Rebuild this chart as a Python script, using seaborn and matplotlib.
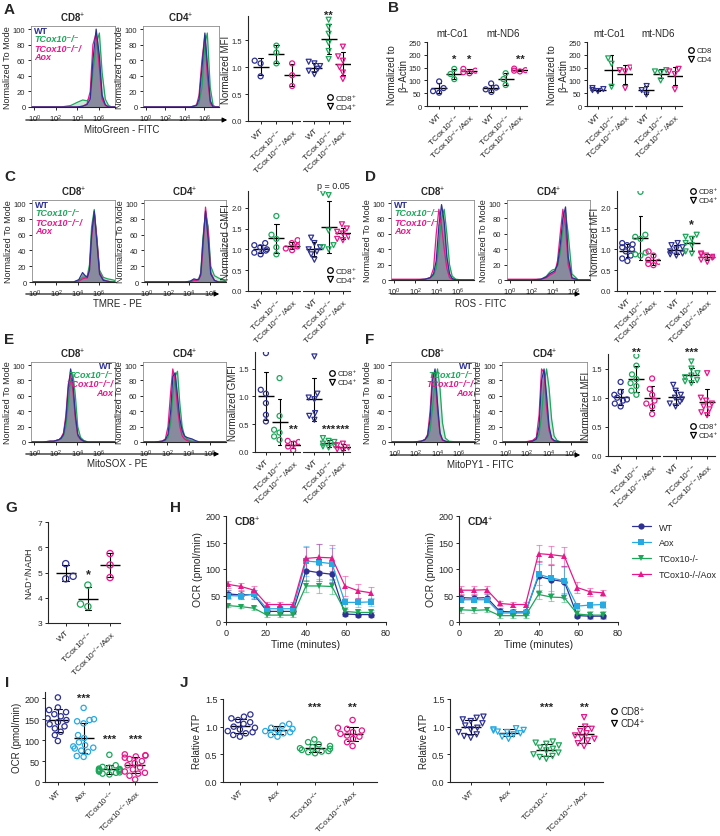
import matplotlib
matplotlib.use("Agg")
import matplotlib.pyplot as plt
from matplotlib.lines import Line2D
from matplotlib.patches import FancyArrowPatch
import numpy as np
import pandas as pd
import seaborn as sns

sns.set_style("ticks")
plt.rcParams["font.family"] = ["Liberation Sans", "DejaVu Sans"]
plt.rcParams["mathtext.fontset"] = "custom"
plt.rcParams["mathtext.rm"] = "Liberation Sans"
plt.rcParams["mathtext.it"] = "Liberation Sans:italic"
plt.rcParams["mathtext.bf"] = "Liberation Sans:bold"
plt.rcParams["axes.linewidth"] = 0.8
plt.rcParams["xtick.major.width"] = 0.7
plt.rcParams["ytick.major.width"] = 0.7
plt.rcParams["xtick.major.size"] = 2.5
plt.rcParams["ytick.major.size"] = 2.5
plt.rcParams["xtick.major.pad"] = 1.5
plt.rcParams["ytick.major.pad"] = 1.5

NAVY = "#2e3192"
GREEN = "#1ea65b"
PINK = "#e6198a"
SKY = "#27a9e1"
FILL = "#7b8296"

KO = "TCox10$^{-/-}$"
KA = "TCox10$^{-/-}$/Aox"
cats3 = ["WT", KO, KA]
cats4 = ["WT", "Aox", KO, KA]
cols3 = [NAVY, GREEN, PINK]
cols4 = [NAVY, SKY, GREEN, PINK]

# ---- flow histograms (log10 fluorescence grid, % of mode) ----
hx_a = [-0.3, 2.5, 3.4, 4.0, 4.5, 4.9, 5.2, 5.45, 5.75, 6.05, 6.3, 6.6, 6.9, 7.2, 7.5]
ha_cd8 = [[0, 0, 0, 0, 1, 3, 10, 60, 100, 65, 15, 3, 0, 0, 0],
          [0, 0, 2, 6, 9, 8, 12, 45, 80, 95, 45, 10, 2, 0, 0],
          [0, 0, 0, 0, 1, 4, 20, 80, 95, 50, 10, 2, 0, 0, 0]]
ha_cd4 = [[0, 0, 0, 0, 0, 1, 2, 10, 50, 95, 55, 8, 0, 0, 0],
          [0, 0, 0, 0, 0, 1, 2, 5, 25, 80, 95, 25, 2, 0, 0],
          [0, 0, 0, 0, 0, 1, 3, 15, 60, 92, 40, 5, 0, 0, 0]]

hx_c = [-0.3, 3.6, 4.1, 4.45, 4.7, 4.9, 5.1, 5.3, 5.55, 5.8, 6.05, 6.4, 6.8, 7.2, 7.5]
hc_cd8 = [[0, 0, 3, 12, 8, 6, 15, 60, 90, 50, 10, 2, 1, 0, 0],
          [0, 0, 2, 6, 6, 8, 22, 70, 92, 55, 15, 6, 4, 3, 2],
          [0, 0, 1, 4, 5, 5, 15, 55, 88, 55, 12, 3, 1, 0, 0]]
hc_cd4 = [[0, 0, 1, 4, 3, 3, 10, 50, 90, 55, 10, 2, 0, 0, 0],
          [0, 0, 1, 3, 3, 4, 12, 55, 88, 70, 20, 8, 5, 3, 1],
          [0, 0, 0, 2, 2, 3, 8, 40, 95, 65, 12, 2, 0, 0, 0]]

hx_d = [-0.3, 2.0, 2.9, 3.4, 3.7, 3.95, 4.2, 4.45, 4.7, 4.95, 5.2, 5.45, 5.8, 6.4, 7.5]
hd_cd8 = [[0, 0, 1, 3, 8, 25, 70, 98, 75, 30, 8, 2, 0, 0, 0],
          [0, 0, 1, 3, 6, 15, 45, 80, 92, 60, 20, 5, 1, 0, 0],
          [1, 1, 1, 3, 15, 60, 92, 70, 40, 15, 3, 1, 0, 0, 0]]
hd_cd4 = [[0, 0, 1, 4, 8, 10, 12, 20, 45, 80, 95, 30, 3, 0, 0],
          [0, 0, 1, 5, 10, 13, 14, 18, 35, 65, 88, 60, 8, 0, 0],
          [1, 1, 1, 3, 6, 8, 10, 25, 60, 92, 70, 20, 2, 0, 0]]

hx_e = [-0.3, 0.8, 1.5, 1.8, 2.05, 2.3, 2.5, 2.72, 2.94, 3.16, 3.38, 3.6, 3.82, 4.04, 4.3, 4.6, 5.0, 5.8, 7.5]
he_cd8 = [[0, 0, 1, 1, 2, 3, 5, 10, 30, 70, 95, 75, 35, 10, 4, 1, 0, 0, 0],
          [0, 0, 1, 1, 2, 3, 4, 8, 20, 50, 80, 88, 60, 20, 6, 2, 0, 0, 0],
          [0, 0, 1, 1, 2, 3, 6, 12, 35, 75, 88, 65, 30, 8, 3, 1, 0, 0, 0]]
he_cd4 = [[0, 0, 1, 3, 10, 40, 85, 90, 60, 30, 15, 8, 6, 5, 4, 2, 0, 0, 0],
          [0, 0, 1, 2, 6, 25, 60, 85, 92, 50, 20, 8, 4, 2, 1, 0, 0, 0, 0],
          [0, 0, 1, 4, 20, 65, 95, 80, 45, 20, 8, 4, 2, 1, 0, 0, 0, 0, 0]]

hx_f = [-0.3, 1.8, 2.5, 2.85, 3.1, 3.33, 3.56, 3.79, 4.02, 4.25, 4.48, 4.75, 5.1, 5.8, 7.5]
hf_cd8 = [[0, 0, 1, 3, 8, 30, 80, 95, 50, 12, 3, 1, 0, 0, 0],
          [0, 0, 1, 3, 6, 15, 45, 80, 95, 70, 25, 5, 1, 0, 0],
          [0, 0, 1, 3, 10, 40, 90, 85, 40, 10, 2, 1, 0, 0, 0]]
hf_cd4 = [[0, 0, 1, 4, 20, 80, 95, 60, 20, 5, 2, 1, 0, 0, 0],
          [0, 0, 1, 3, 10, 35, 75, 95, 70, 30, 8, 2, 0, 0, 0],
          [0, 0, 2, 6, 35, 95, 90, 45, 15, 4, 1, 0, 0, 0, 0]]

# ---- dot plots: [WT, TCox10-/-, TCox10-/-/Aox] ----
a_cd8 = [[1.12, 1.07, 0.83], [1.40, 1.27, 1.07], [1.07, 0.85, 0.65]]
a_cd4 = [[1.10, 1.07, 1.02, 0.97, 0.93, 0.87], [1.88, 1.75, 1.62, 1.45, 1.30, 1.15],
         [1.38, 1.20, 1.12, 1.00, 0.90, 0.78]]
b_co1_cd8 = [[96, 70, 58, 52], [145, 125, 105], [145, 138, 132, 128]]
b_nd6_cd8 = [[88, 72, 65, 55], [128, 105, 82], [146, 140, 138, 135]]
b_co1_cd4 = [[70, 66, 62, 58], [186, 165, 75], [150, 140, 135, 70]]
b_nd6_cd4 = [[78, 62, 45], [140, 135, 130, 100], [145, 135, 125, 65]]
c_cd8 = [[1.15, 1.10, 1.05, 1.00, 0.97, 0.92, 0.88], [1.80, 1.35, 1.25, 1.05, 0.88],
         [1.22, 1.15, 1.10, 1.07, 1.02, 0.98]]
c_cd4 = [[1.28, 1.15, 1.05, 1.00, 0.95, 0.88, 0.75], [2.35, 2.30, 1.45, 1.10, 1.05, 1.00],
         [1.60, 1.50, 1.42, 1.38, 1.30, 1.25, 1.22]]
d_cd8 = [[1.15, 1.12, 1.10, 1.05, 1.00, 0.95, 0.85, 0.78, 0.72],
         [2.38, 1.35, 1.30, 1.25, 0.92, 0.88, 0.85], [0.95, 0.85, 0.75, 0.70, 0.65, 0.62]]
d_cd4 = [[1.15, 1.10, 1.05, 1.00, 0.95, 0.90, 0.88, 0.85],
         [1.35, 1.30, 1.25, 1.15, 1.10, 0.95, 0.90], [0.90, 0.88, 0.85, 0.82, 0.80, 0.75, 0.70]]
e_cd8 = [[1.78, 1.12, 1.05, 0.88, 0.67, 0.55], [1.33, 0.65, 0.40, 0.35, 0.28, 0.22],
         [0.20, 0.18, 0.15, 0.10, 0.03]]
e_cd4 = [[1.72, 1.05, 0.98, 0.95, 0.70, 0.65, 0.58], [0.25, 0.20, 0.18, 0.15, 0.12, 0.10, 0.08],
         [0.15, 0.12, 0.08, 0.05, 0.03]]
f_cd8 = [[1.27, 1.10, 1.05, 1.00, 0.97, 0.95, 0.90, 0.85],
         [1.72, 1.55, 1.40, 1.32, 1.25, 1.20, 1.12, 1.05],
         [1.33, 1.15, 1.05, 0.95, 0.90, 0.85, 0.72]]
f_cd4 = [[1.22, 1.12, 1.05, 1.00, 0.97, 0.93, 0.90, 0.85],
         [1.62, 1.50, 1.42, 1.38, 1.35, 1.30, 1.28, 1.25],
         [1.42, 1.00, 0.95, 0.90, 0.85, 0.80, 0.75, 0.70]]
g_nad = [[5.35, 4.85, 4.75], [4.50, 3.75, 3.65], [5.75, 5.30, 4.80]]

# ---- Seahorse OCR time course ----
h_time = [1, 7.5, 14, 20.5, 27, 33.5, 40, 46.5, 53, 59.5, 66, 72.5]
h_groups = ["WT", "Aox", "TCox10-/-", "TCox10-/-/Aox"]
h8_mean = [[53, 51, 52, 20, 20, 20, 97, 93, 90, 15, 14, 14],
           [50, 49, 53, 25, 25, 25, 115, 113, 110, 37, 37, 38],
           [31, 29, 26, 13, 13, 13, 68, 68, 67, 20, 18, 18],
           [71, 67, 60, 33, 33, 33, 120, 122, 121, 68, 59, 55]]
h8_sd = [[7, 7, 8, 5, 5, 5, 20, 15, 15, 4, 4, 4],
         [6, 6, 8, 5, 5, 5, 28, 35, 30, 8, 8, 8],
         [3, 3, 4, 4, 4, 4, 12, 14, 14, 5, 4, 4],
         [6, 6, 7, 4, 4, 4, 22, 25, 25, 18, 13, 11]]
h4_mean = [[46, 45, 46, 20, 19, 19, 86, 80, 76, 12, 11, 11],
           [42, 42, 42, 17, 17, 17, 90, 83, 78, 30, 32, 33],
           [23, 22, 23, 12, 12, 12, 52, 47, 46, 15, 13, 13],
           [60, 60, 61, 35, 33, 33, 129, 127, 124, 65, 57, 55]]
h4_sd = [[5, 6, 7, 6, 6, 6, 30, 28, 30, 3, 3, 3],
         [5, 5, 5, 4, 4, 4, 20, 25, 25, 6, 6, 6],
         [6, 5, 5, 5, 5, 5, 8, 8, 8, 8, 7, 7],
         [8, 7, 7, 4, 4, 4, 16, 17, 18, 10, 7, 6]]

# ---- I: basal OCR, J: ATP [WT, Aox, TCox10-/-, TCox10-/-/Aox] ----
i_ocr = [[202, 178, 172, 167, 162, 157, 152, 148, 143, 138, 133, 128, 120, 112, 98],
         [177, 150, 148, 145, 140, 112, 105, 95, 88, 85, 82, 80, 75, 72, 62, 60],
         [65, 40, 36, 34, 32, 31, 30, 29, 28, 27, 26, 25, 23, 22, 20, 18],
         [66, 64, 63, 61, 58, 55, 50, 45, 40, 35, 30, 25, 22, 20, 15, 6]]
j_cd8 = [[1.22, 1.18, 1.15, 1.12, 1.08, 1.05, 1.00, 0.98, 0.95, 0.92, 0.90, 0.88, 0.85, 0.82],
         [1.05, 1.02, 0.98, 0.96, 0.94, 0.92, 0.90, 0.88, 0.85, 0.82],
         [0.77, 0.72, 0.68, 0.65, 0.63, 0.61, 0.60, 0.58, 0.56, 0.55, 0.54, 0.52],
         [1.12, 0.98, 0.96, 0.93, 0.90, 0.87, 0.84, 0.82, 0.78, 0.72, 0.65]]
j_cd4 = [[1.18, 1.16, 1.13, 1.10, 1.06, 1.02, 0.98, 0.95, 0.90, 0.86, 0.83, 0.80],
         [0.97, 0.95, 0.94, 0.93, 0.91, 0.90, 0.88, 0.86, 0.82, 0.78],
         [0.73, 0.71, 0.69, 0.66, 0.62, 0.60, 0.57, 0.53, 0.50, 0.47, 0.45, 0.42],
         [1.17, 1.00, 0.96, 0.92, 0.88, 0.84, 0.80, 0.78, 0.75, 0.70, 0.65]]

W, H = 720, 837
fig = plt.figure(figsize=(W / 100, H / 100), dpi=100)


def box(x0, y0, x1, y1):
    # pixel box (left, top, right, bottom) -> axes
    return fig.add_axes([x0 / W, 1 - y1 / H, (x1 - x0) / W, (y1 - y0) / H])


def ftext(x, y, s, **kw):
    fig.text(x / W, 1 - y / H, s, **kw)


def arrow(x0, x1, y):
    fig.add_artist(FancyArrowPatch((x0 / W, 1 - y / H), (x1 / W, 1 - y / H),
                                   transform=fig.transFigure, arrowstyle="-|>",
                                   mutation_scale=7, lw=0.8, color="k"))


def hist_panel(boxes, top, bottom, grid, curves, xlabel, lab_y, arrow_x, right_labels=False):
    for (x0, x1), title, ys in zip(boxes, ["CD8$^{+}$", "CD4$^{+}$"], curves):
        ax = box(x0, top, x1, bottom)
        ax.fill_between(grid, ys[1], color=GREEN, alpha=0.25, lw=0)
        ax.fill_between(grid, ys[2], color=PINK, alpha=0.2, lw=0)
        ax.fill_between(grid, ys[0], color=FILL, alpha=0.85, lw=0)
        for y, c in zip([ys[1], ys[2], ys[0]], [GREEN, PINK, NAVY]):
            sns.lineplot(x=grid, y=y, color=c, lw=0.9, estimator=None, sort=False, ax=ax)
        ax.set_xlim(-0.3, 7.5)
        ax.set_ylim(0, 104)
        ax.set_xticks([0, 2, 4, 6])
        ax.set_xticklabels(["$10^{0}$", "$10^{2}$", "$10^{4}$", "$10^{6}$"], fontsize=5.5)
        ax.set_yticks(range(0, 101, 20))
        ax.tick_params(axis="y", labelsize=5.5)
        ax.set_ylabel("Normalized To Mode", fontsize=6.5, labelpad=1)
        ax.set_xlabel("")
        for s in ["top", "right", "left"]:
            ax.spines[s].set_color("#8c8c8c")
            ax.spines[s].set_linewidth(0.6)
        ax.set_title(title, fontsize=7, fontweight="bold", pad=3)
        if title.startswith("CD8"):
            lx = x1 - 2 if right_labels else x0 + 3
            ha = "right" if right_labels else "left"
            for dy, s, c, st in [(4, "WT", NAVY, "normal"), (13, "TCox10⁻/⁻", GREEN, "italic"),
                                 (22, "TCox10⁻/⁻/", PINK, "italic"), (31, "Aox", PINK, "italic")]:
                ftext(lx, top + dy, s, color=c, fontsize=6.5, fontweight="bold", style=st,
                      ha=ha, va="center")
    arrow(arrow_x[0], arrow_x[1], lab_y)
    ftext((arrow_x[0] + arrow_x[1]) / 2 - 5, lab_y + 9, xlabel, fontsize=7, ha="center", va="center")


def dots(ax, cats, vals, cols, marker, size=3.6, mean_w=11, cap=0.28):
    df = pd.DataFrame({"g": np.repeat(cats, [len(v) for v in vals]),
                       "v": np.concatenate(vals)})
    sns.swarmplot(data=df, x="g", y="v", hue="g", order=cats, hue_order=cats,
                  palette=cols, marker=marker, size=size, linewidth=0,
                  legend=False, warn_thresh=1, ax=ax)
    for coll in ax.collections:
        fc = coll.get_facecolors()
        coll.set_edgecolors(fc)
        coll.set_facecolors("none")
        coll.set_linewidth(0.9)
    sns.pointplot(data=df, x="g", y="v", order=cats, errorbar="sd", color="k",
                  marker="_", markersize=mean_w, markeredgewidth=1.0, linewidth=0.8,
                  linestyle="none", capsize=cap, err_kws={"linewidth": 0.8}, ax=ax)
    ax.set_xlabel("")
    ax.set_ylabel("")
    sns.despine(ax=ax)


def rot_labels(ax, size=6):
    ax.set_xticks(range(len(ax.get_xticklabels())))
    for t in ax.get_xticklabels():
        t.set_rotation(45)
        t.set_ha("right")
        t.set_rotation_mode("anchor")
        t.set_fontsize(size)


def split_panel(xs, top, bottom, left_vals, right_vals, markers, ylim, yticks, ylabel,
                xlim=(-0.8, 2.5)):
    axl = box(xs[0], top, xs[1], bottom)
    axr = box(xs[2], top, xs[3], bottom)
    dots(axl, cats3, left_vals, cols3, markers[0])
    dots(axr, cats3, right_vals, cols3, markers[1])
    for ax in (axl, axr):
        ax.set_ylim(*ylim)
        ax.set_xlim(*xlim)
        rot_labels(ax)
    axl.set_yticks(yticks)
    axl.set_yticklabels([f"{t:.1f}" if isinstance(t, float) else str(t) for t in yticks], fontsize=5.5)
    axl.set_ylabel(ylabel, fontsize=7, labelpad=0.5)
    axr.spines["left"].set_visible(False)
    axr.set_yticks([])
    return axl, axr


def marker_legend(ax, labels, anchor, size=6):
    hs = [Line2D([], [], marker=m, ls="none", mfc="none", mec="k", mew=0.9, ms=4)
          for m in ["o", "v"]]
    ax.legend(hs, labels, loc="upper left", bbox_to_anchor=(anchor[0] / W, 1 - anchor[1] / H),
              bbox_transform=fig.transFigure, frameon=False, fontsize=size,
              handletextpad=0.2, labelspacing=0.2, borderpad=0, borderaxespad=0,
              handlelength=0.9)


def stars(ax, pos, y, s, size=8):
    ax.text(pos, y, s, ha="center", va="center", fontsize=size, fontweight="bold", clip_on=False)


CDL = ["CD8⁺", "CD4⁺"]

# ---------------- A ----------------
ftext(4, 10, "A", fontsize=11, fontweight="bold", va="center")
hist_panel([(31, 115), (143, 219)], 27, 108, hx_a, [ha_cd8, ha_cd4], "MitoGreen - FITC", 121, (23, 230))
axl, axr = split_panel((248, 300, 303, 350), 17, 122, a_cd8, a_cd4, ("o", "v"),
                       (0, 1.95), [0.0, 0.5, 1.0, 1.5], "Normalized MFI")
stars(axr, 1, 1.98, "**")
marker_legend(axr, CDL, (326, 95))

# ---------------- B ----------------
ftext(388, 8, "B", fontsize=11, fontweight="bold", va="center")
b1l, b1r = split_panel((427, 477, 480, 527), 43, 107, b_co1_cd8, b_nd6_cd8, ("o", "o"),
                       (0, 250), [0, 50, 100, 150, 200, 250], "Normalized to\nβ−Actin")
b2l, b2r = split_panel((587, 632, 635, 682), 43, 107, b_co1_cd4, b_nd6_cd4, ("v", "v"),
                       (0, 250), [0, 50, 100, 150, 200, 250], "Normalized to\nβ−Actin")
for ax, t in [(b1l, "mt-Co1"), (b1r, "mt-ND6"), (b2l, "mt-Co1"), (b2r, "mt-ND6")]:
    ax.set_title(t, fontsize=7, pad=4)
stars(b1l, 1, 185, "*")
stars(b1l, 2, 185, "*")
stars(b1r, 2, 185, "**")
marker_legend(b2r, ["CD8", "CD4"], (688, 48), size=5.5)

# ---------------- C ----------------
ftext(4, 177, "C", fontsize=11, fontweight="bold", va="center")
hist_panel([(32, 115), (144, 226)], 201, 283, hx_c, [hc_cd8, hc_cd4], "TMRE - PE", 295, (23, 222))
cl, cr = split_panel((248, 300, 303, 350), 192, 292, c_cd8, c_cd4, ("o", "v"),
                     (0, 2.4), [0.0, 0.5, 1.0, 1.5, 2.0], "Normalized GMFI")
cr.text(1.3, 2.52, "p = 0.05", ha="center", va="center", fontsize=6.5, clip_on=False)
marker_legend(cr, CDL, (326, 268))

# ---------------- D ----------------
ftext(365, 177, "D", fontsize=11, fontweight="bold", va="center")
hist_panel([(391, 474), (507, 590)], 201, 281, hx_d, [hd_cd8, hd_cd4], "ROS - FITC", 295, (388, 583))
dl, dr = split_panel((617, 660, 664, 715), 192, 292, d_cd8, d_cd4, ("o", "v"),
                     (0, 2.4), [0.0, 0.5, 1.0, 1.5, 2.0], "Normalized MFI")
stars(dr, 1, 1.6, "*", size=9)
marker_legend(dr, CDL, (690, 189), size=5.5)

# ---------------- E ----------------
ftext(4, 340, "E", fontsize=11, fontweight="bold", va="center")
hist_panel([(31, 115), (143, 226)], 363, 443, hx_e, [he_cd8, he_cd4], "MitoSOX - PE", 455, (23, 222),
           right_labels=True)
el, er = split_panel((255, 300, 303, 350), 353, 453, e_cd8, e_cd4, ("o", "v"),
                     (0, 1.8), [0.0, 0.5, 1.0, 1.5], "Normalized GMFI")
stars(el, 2, 0.42, "**")
stars(er, 1, 0.42, "***")
stars(er, 2, 0.42, "***")
marker_legend(er, CDL, (329, 371), size=5.5)

# ---------------- F ----------------
ftext(365, 340, "F", fontsize=11, fontweight="bold", va="center")
hist_panel([(391, 475), (502, 587)], 363, 443, hx_f, [hf_cd8, hf_cd4], "MitoPY1 - FITC", 456, (388, 583),
           right_labels=True)
fl, fr = split_panel((608, 660, 663, 715), 355, 457, f_cd8, f_cd4, ("o", "v"),
                     (0, 1.75), [0.0, 0.5, 1.0, 1.5], "Normalized MFI")
stars(fl, 1, 1.78, "**")
stars(fr, 1, 1.78, "***")
marker_legend(fr, CDL, (690, 424), size=5.5)

# ---------------- G ----------------
ftext(5, 508, "G", fontsize=11, fontweight="bold", va="center")
ax = box(48, 523, 120, 624)
dots(ax, cats3, g_nad, cols3, "o", size=4.5, mean_w=14, cap=0.3)
ax.set_ylim(3, 7)
ax.set_xlim(-0.8, 2.45)
ax.set_yticks([3, 4, 5, 6, 7])
ax.tick_params(axis="y", labelsize=6)
ax.set_ylabel("NAD$^{+}$/NADH", fontsize=6.5, labelpad=2)
rot_labels(ax)
stars(ax, 1, 4.95, "*", size=9)

# ---------------- H ----------------
ftext(170, 508, "H", fontsize=11, fontweight="bold", va="center")
h_markers = {"WT": "o", "Aox": "s", "TCox10-/-": "v", "TCox10-/-/Aox": "^"}
for (x0, x1), means, sds, tag, show in [((226, 386), h8_mean, h8_sd, "CD8$^{+}$", False),
                                        ((459, 618), h4_mean, h4_sd, "CD4$^{+}$", True)]:
    ax = box(x0, 517, x1, 623)
    for m, s, c in zip(means, sds, cols4):
        ax.errorbar(h_time, m, yerr=s, fmt="none", ecolor=c, alpha=0.45,
                    elinewidth=0.8, capsize=2, capthick=0.8)
    df = pd.DataFrame({"time": h_time * 4, "ocr": np.concatenate(means),
                       "group": np.repeat(h_groups, len(h_time))})
    sns.lineplot(data=df, x="time", y="ocr", hue="group", style="group", hue_order=h_groups,
                 style_order=h_groups, palette=cols4, markers=h_markers, dashes=False,
                 markersize=4.5, markeredgewidth=0, linewidth=0.9, legend=show, ax=ax)
    ax.set_xlim(0, 80)
    ax.set_ylim(0, 200)
    ax.set_xticks([0, 20, 40, 60, 80])
    ax.set_yticks([0, 50, 100, 150, 200])
    ax.tick_params(labelsize=6.5)
    ax.set_xlabel("Time (minutes)", fontsize=7.5, labelpad=2)
    ax.set_ylabel("OCR (pmol/min)", fontsize=7.5, labelpad=2)
    ax.text(0.05, 0.95, tag, transform=ax.transAxes, fontsize=7.5, fontweight="bold", va="center")
    sns.despine(ax=ax)
    if show:
        ax.legend(loc="upper left", bbox_to_anchor=(627 / W, 1 - 519 / H),
                  bbox_transform=fig.transFigure, frameon=False, fontsize=6.5,
                  handlelength=2.2, labelspacing=0.75, borderpad=0)

# ---------------- I ----------------
ftext(5, 683, "I", fontsize=11, fontweight="bold", va="center")
ax = box(45, 693, 157, 783)
dots(ax, cats4, i_ocr, cols4, "o", size=3.8, mean_w=14, cap=0.3)
ax.set_ylim(0, 215)
ax.set_xlim(-0.5, 3.85)
ax.set_yticks([0, 50, 100, 150, 200])
ax.tick_params(axis="y", labelsize=6.5)
ax.set_ylabel("OCR (pmol/min)", fontsize=7, labelpad=2)
rot_labels(ax, size=5.6)
for p in [1, 2, 3]:
    stars(ax, p, 202 if p == 1 else 102, "***")

# ---------------- J ----------------
ftext(180, 683, "J", fontsize=11, fontweight="bold", va="center")
for (x0, x1), vals, mk, xl in [((223, 377), j_cd8, "o", (-0.45, 3.65)),
                               ((450, 603), j_cd4, "v", (-0.55, 3.5))]:
    ax = box(x0, 700, x1, 783)
    dots(ax, cats4, vals, cols4, mk, size=3.8, mean_w=14, cap=0.3)
    ax.set_ylim(0, 1.5)
    ax.set_xlim(*xl)
    ax.set_yticks([0.0, 0.5, 1.0, 1.5])
    ax.set_yticklabels(["0.0", "0.5", "1.0", "1.5"], fontsize=6.5)
    ax.set_ylabel("Relative ATP", fontsize=7, labelpad=2)
    rot_labels(ax, size=5.8)
    stars(ax, 2, 1.35, "***")
    stars(ax, 3, 1.35, "**")
marker_legend(ax, CDL, (610, 707), size=7)

fig.savefig("out.png", dpi=100)
